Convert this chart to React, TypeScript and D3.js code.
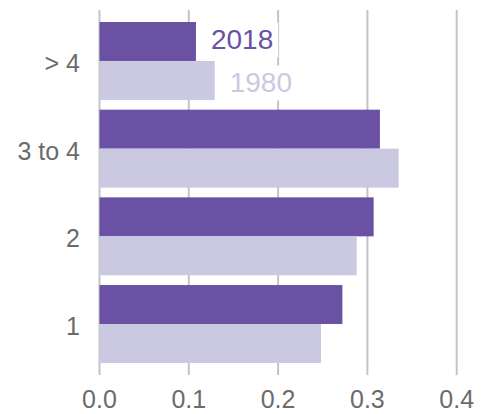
import React, { useEffect, useRef } from "react";
import * as d3 from "d3";

const categories = ["> 4", "3 to 4", "2", "1"];
const series = ["2018", "1980"];
const values2018 = [0.108, 0.314, 0.307, 0.272];
const values1980 = [0.129, 0.335, 0.288, 0.248];
const xTicks = [0, 0.1, 0.2, 0.3, 0.4];
const colors = ["#6a51a3", "#cbc9e2"];

const W = 482;
const H = 414;

export default function App() {
  const ref = useRef<SVGSVGElement | null>(null);

  useEffect(() => {
    const svg = d3.select(ref.current);
    svg.selectAll("*").remove();

    const x = d3.scaleLinear().domain([0, 0.4]).range([99.5, 456.7]);
    const y = d3.scaleBand<string>().domain(categories).range([22, 363]).paddingInner(0.111).paddingOuter(0);
    const inner = d3.scaleBand<string>().domain(series).range([0, y.bandwidth()]);
    const valueSets = [values2018, values1980];
    const font = "'Liberation Sans', Arial, sans-serif";
    const textColor = "#6b6b6b";

    // gridlines
    svg.append("g")
      .selectAll("line")
      .data(xTicks)
      .join("line")
      .attr("x1", (d) => x(d))
      .attr("x2", (d) => x(d))
      .attr("y1", 10)
      .attr("y2", 375)
      .attr("stroke", "#c4c4c4")
      .attr("stroke-width", 2);

    // tick labels
    svg.append("g")
      .selectAll("text")
      .data(xTicks)
      .join("text")
      .attr("x", (d) => x(d))
      .attr("y", 408)
      .attr("text-anchor", "middle")
      .attr("font-family", font)
      .attr("font-size", 25)
      .attr("fill", textColor)
      .text((d) => d3.format(".1f")(d));

    // category labels
    svg.append("g")
      .selectAll("text")
      .data(categories)
      .join("text")
      .attr("x", 80)
      .attr("y", (d) => (y(d) as number) + y.bandwidth() / 2 + 11)
      .attr("text-anchor", "end")
      .attr("font-family", font)
      .attr("font-size", 25)
      .attr("fill", textColor)
      .text((d) => d);

    // series labels with white background
    const labelG = svg.append("g");
    const first = categories[0];
    const offsets = [8, 12];
    series.forEach((s, i) => {
      const v = valueSets[i][0];
      const cy = (y(first) as number) + (inner(s) as number) + inner.bandwidth() / 2;
      const g = labelG.append("g");
      const rect = g.append("rect").attr("fill", "white");
      const t = g.append("text")
        .attr("x", x(v) + 15)
        .attr("y", cy + offsets[i])
        .attr("font-family", font)
        .attr("font-size", 28)
        .attr("fill", colors[i])
        .text(s);
      const bb = (t.node() as SVGTextElement).getBBox();
      rect.attr("x", bb.x - 5).attr("y", bb.y - 2).attr("width", bb.width + 10).attr("height", bb.height + 4);
    });

    // bars
    const barG = svg.append("g");
    series.forEach((s, i) => {
      barG.append("g")
        .selectAll("rect")
        .data(categories.map((c, j) => ({ c, v: valueSets[i][j] })))
        .join("rect")
        .attr("x", x(0))
        .attr("y", (d) => (y(d.c) as number) + (inner(s) as number))
        .attr("width", (d) => x(d.v) - x(0))
        .attr("height", inner.bandwidth())
        .attr("fill", colors[i]);
    });
    labelG.raise();
  }, []);

  return (
    <svg
      ref={ref}
      width={W}
      height={H}
      style={{ position: "absolute", left: 0, top: 0, background: "white" }}
    />
  );
}
